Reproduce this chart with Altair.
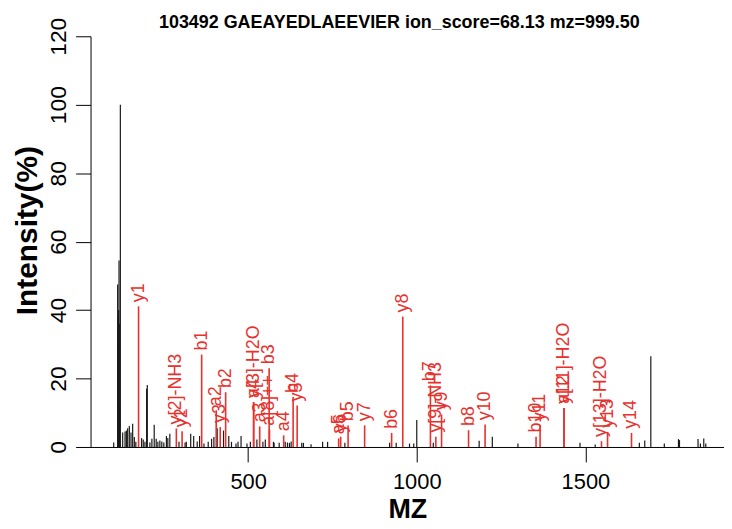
import altair as alt
import pandas as pd

# Unannotated (black) peaks: m/z and relative intensity (%)
black_mz = [101.4, 113.1, 114.1, 115.1, 116.1, 117.1, 118.1, 119.1, 121.1,
            128.0, 135.0, 139.0, 142.8, 147.7, 152.7, 157.6, 162.5, 167.0,
            184.0, 189.0, 194.0, 199.0, 201.0, 208.7, 214.6, 221.5, 227.4,
            232.3, 238.2, 244.0, 250.0, 257.7, 261.8, 267.8, 295.0, 313.0,
            316.7, 329.7, 338.5, 349.0, 356.0, 369.0, 381.6, 391.6, 398.4,
            408.2, 427.0, 442.6, 450.6, 464.0, 470.0, 479.0, 496.6, 506.6,
            526.0, 543.8, 550.9, 575.0, 577.0, 592.0, 610.0, 616.6, 622.5,
            627.5, 659.0, 664.0, 686.5, 720.8, 735.6, 786.8, 919.5, 939.0,
            978.5, 991.0, 1000.0, 1049.0, 1185.0, 1224.0, 1300.0, 1484.0,
            1529.0, 1660.0, 1676.0, 1694.0, 1734.0, 1776.0, 1779.0, 1834.0,
            1841.0, 1851.0, 1857.0]
black_int = [1.3, 47.5, 38.0, 30.0, 40.0, 54.5, 36.0, 12.0, 100.0,
             4.2, 4.5, 4.8, 5.5, 6.1, 4.2, 6.8, 2.9, 1.5,
             2.6, 2.2, 1.5, 17.0, 18.1, 1.3, 2.4, 6.5, 2.4,
             1.5, 1.9, 1.6, 1.3, 3.2, 2.6, 3.9, 1.5, 1.3,
             1.5, 3.9, 3.2, 1.6, 3.2, 1.0, 1.5, 2.4, 2.9,
             5.5, 4.8, 3.2, 1.5, 1.0, 1.5, 3.2, 1.0, 1.5,
             2.2, 1.5, 2.2, 1.5, 1.2, 1.2, 1.5, 1.3, 1.2,
             1.6, 1.2, 1.2, 0.8, 1.5, 1.5, 1.2, 1.2, 1.2,
             1.0, 1.0, 7.9, 1.2, 1.8, 3.0, 1.0, 1.2,
             0.7, 1.2, 1.9, 26.5, 1.0, 2.3, 2.0, 2.3,
             1.0, 2.5, 1.0]

# Annotated (red) fragment ions
ion_labels = ["y1", "y[2]-NH3", "y2", "b1", "a2", "y3", "b2", "y4", "a[3]-H2O",
              "a3", "b3", "a[8]++", "a4", "b4", "y5", "a5", "y6", "b5", "y7",
              "b6", "y8", "b7", "y[9]-NH3", "y9", "b8", "y10", "b10", "y11",
              "y12", "a[11]-H2O", "y[13]-H2O", "y13", "y14"]
ion_mz = [175.12, 287.13, 304.16, 362.2, 405.3, 417.25, 433.3, 516.31, 516.3,
          534.3, 562.3, 563.3, 605.4, 633.4, 645.36, 768.4, 774.4, 796.4, 845.44,
          925.5, 958.52, 1040.5, 1056.52, 1073.55, 1153.6, 1202.59, 1353.7, 1365.66,
          1436.69, 1436.7, 1547.73, 1565.74, 1636.77]
ion_int = [41.1, 5.4, 4.6, 27.0, 10.7, 5.8, 16.0, 13.1, 13.1,
           6.0, 23.0, 5.0, 3.4, 14.6, 12.1, 2.5, 3.0, 6.3, 6.3,
           4.1, 38.1, 18.0, 3.0, 9.5, 4.9, 6.6, 3.0, 6.3,
           11.4, 11.4, 1.7, 4.4, 4.1]

y_ticks = [0, 20, 40, 60, 80, 100, 120]
x_ticks = [500, 1000, 1500]

FONT = "Liberation Sans"
RED = "#e8302c"

peaks = pd.DataFrame({"mz": black_mz, "intensity": black_int})
ions = pd.DataFrame({"label": ion_labels, "mz": ion_mz, "intensity": ion_int})

x_enc = alt.X(
    "mz:Q",
    scale=alt.Scale(domain=[32.7, 1911], nice=False, zero=False),
    axis=alt.Axis(values=x_ticks, format="d", title="MZ", grid=False, domain=True,
                  domainColor="black", domainWidth=1, tickColor="black",
                  tickSize=15, tickWidth=1, labelFont=FONT, labelFontSize=22,
                  labelColor="black", labelBaseline="alphabetic", labelPadding=27,
                  titleFont=FONT, titleFontSize=27, titleFontWeight="bold",
                  titleColor="black", titleBaseline="alphabetic", titleY=71),
)
y_axis = alt.Axis(values=y_ticks, title="Intensity(%)", grid=False, domain=True,
                  domainColor="black", domainWidth=1, tickColor="black",
                  tickSize=15, tickWidth=1, labelFont=FONT, labelFontSize=23,
                  labelColor="black", labelAngle=270, labelAlign="center",
                  labelBaseline="alphabetic", labelPadding=10,
                  titleFont=FONT, titleFontSize=30, titleFontWeight="bold",
                  titleColor="black", titleAngle=270, titleBaseline="middle",
                  titleX=-63, titleY=195, titleAlign="center")
y_scale = alt.Scale(domain=[0, 120], nice=False, zero=True)

black = alt.Chart(peaks).transform_calculate(zero="0").mark_rule(
    color="#1a1a1a", strokeWidth=1.2
).encode(
    x=x_enc,
    y=alt.Y("intensity:Q", scale=y_scale, axis=y_axis),
    y2="zero:Q",
)

red = alt.Chart(ions).transform_calculate(zero="0").mark_rule(
    color=RED, strokeWidth=1.6
).encode(
    x=x_enc,
    y=alt.Y("intensity:Q", scale=y_scale, axis=y_axis),
    y2="zero:Q",
)

labels = alt.Chart(ions).transform_calculate(
    ly="datum.intensity + 1.2"
).mark_text(
    angle=270, align="left", baseline="middle", color=RED,
    font=FONT, fontSize=18
).encode(
    x=x_enc,
    y=alt.Y("ly:Q", scale=y_scale, axis=y_axis),
    text="label:N",
)

chart = alt.layer(black, red, labels).properties(
    width=637,
    height=413,
    title=alt.TitleParams(
        "103492 GAEAYEDLAEEVIER ion_score=68.13 mz=999.50",
        font=FONT, fontSize=18, fontWeight="bold", color="black",
        anchor="middle", baseline="alphabetic", offset=7, dx=-8, dy=36,
    ),
    autosize=alt.AutoSizeParams(type="none"),
    padding={"left": 83, "top": 27, "right": 0, "bottom": 73},
).configure(background="white").configure_view(stroke=None)

chart.save("out.html", embed_options={"renderer": "svg", "actions": False})
